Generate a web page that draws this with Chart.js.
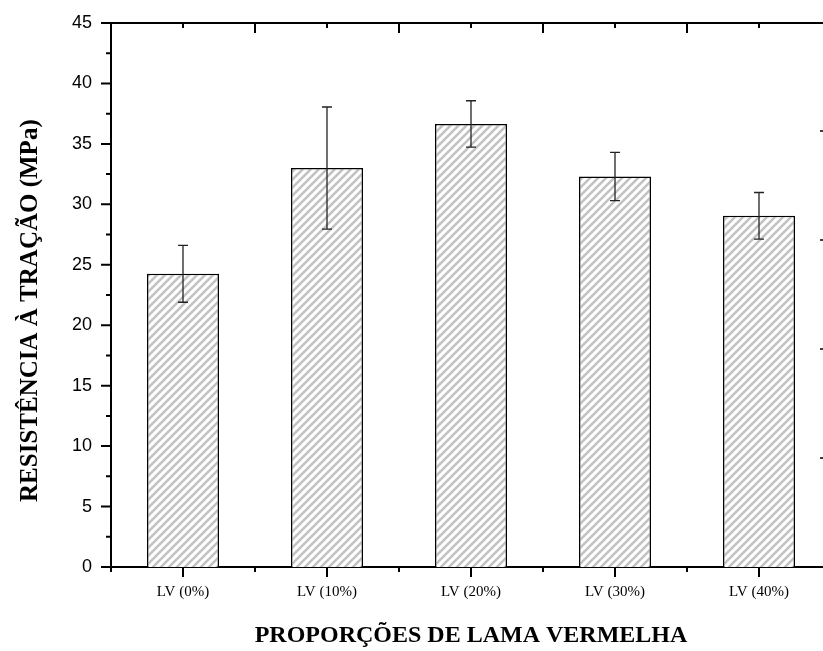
<!DOCTYPE html>
<html>
<head>
<meta charset="utf-8">
<script src="https://cdn.jsdelivr.net/npm/chart.js@4/dist/chart.umd.min.js"></script>
<style>
  html, body { margin: 0; padding: 0; background: #fff; overflow: hidden; }
  #wrap { width: 840px; height: 651px; }
</style>
</head>
<body>
<div id="wrap"><canvas id="chart" width="840" height="651"></canvas></div>
<script>
// dados
var categorias = ['LV (0%)', 'LV (10%)', 'LV (20%)', 'LV (30%)', 'LV (40%)'];
var resistencia = [24.25, 33.0, 36.65, 32.3, 29.05];
var desvio = [2.35, 5.05, 1.92, 2.0, 1.93];
var yTicks = [0, 5, 10, 15, 20, 25, 30, 35, 40, 45];

function hachura() {
    var c = document.createElement('canvas');
    c.width = 8; c.height = 8;
    var g = c.getContext('2d');
    g.fillStyle = '#fff';
    g.fillRect(0, 0, 8, 8);
    g.strokeStyle = '#c2c2c2';
    g.lineWidth = 2.6;
    g.beginPath();
    g.moveTo(-1, 9); g.lineTo(9, -1);
    g.moveTo(-2, 2); g.lineTo(2, -2);
    g.moveTo(6, 10); g.lineTo(10, 6);
    g.stroke();
    return g.createPattern(c, 'repeat');
}

// barras de erro, moldura superior e marcas dos eixos
var extras = {
    id: 'extras',
    afterDatasetsDraw: function(chart) {
        var ctx = chart.ctx, x = chart.scales.x, y = chart.scales.y;
        var a = chart.chartArea;
        ctx.save();
        ctx.strokeStyle = '#222';
        ctx.lineWidth = 1.3;
        resistencia.forEach(function(v, i) {
            var px = x.getPixelForValue(i);
            var top = y.getPixelForValue(v + desvio[i]);
            var bot = y.getPixelForValue(v - desvio[i]);
            ctx.beginPath();
            ctx.moveTo(px, top); ctx.lineTo(px, bot);
            ctx.moveTo(px - 5, top); ctx.lineTo(px + 5, top);
            ctx.moveTo(px - 5, bot); ctx.lineTo(px + 5, bot);
            ctx.stroke();
        });

        ctx.strokeStyle = '#000';
        ctx.lineWidth = 2;
        ctx.beginPath();
        ctx.moveTo(a.left - 1, a.top); ctx.lineTo(a.right, a.top);
        ctx.stroke();

        ctx.beginPath();
        // eixo y: maiores a cada 5, menores a cada 2.5
        for (var v = 0; v <= 45; v += 2.5) {
            var py = y.getPixelForValue(v);
            var len = (v % 5 === 0) ? 10 : 5;
            ctx.moveTo(a.left - len, py); ctx.lineTo(a.left, py);
        }
        // eixo x inferior e superior
        for (var k = -0.5; k <= categorias.length - 0.5; k += 0.5) {
            var px2 = x.getPixelForValue(k);
            var centro = Math.abs(k - Math.round(k)) < 0.01;
            var lb = centro ? 10 : 5;
            var lt = centro ? 5 : 10;
            ctx.moveTo(px2, a.bottom); ctx.lineTo(px2, a.bottom + lb);
            if (k > -0.5) { ctx.moveTo(px2, a.top); ctx.lineTo(px2, a.top + lt); }
        }
        ctx.stroke();

        // marcas soltas na borda direita
        ctx.lineWidth = 1.5;
        ctx.beginPath();
        [131, 240, 349, 458].forEach(function(py) {
            ctx.moveTo(820, py); ctx.lineTo(823, py);
        });
        ctx.stroke();
        ctx.restore();
    }
};

new Chart(document.getElementById('chart'), {
    type: 'bar',
    data: {
        labels: categorias,
        datasets: [{
            data: resistencia,
            backgroundColor: hachura(),
            borderColor: '#000',
            borderWidth: 1.5,
            barPercentage: 0.5,
            categoryPercentage: 1.0
        }]
    },
    options: {
        responsive: false,
        animation: false,
        layout: { padding: { top: 23, right: 9, left: 0, bottom: 0 } },
        plugins: { legend: { display: false }, tooltip: { enabled: false } },
        scales: {
            x: {
                grid: { display: false, drawTicks: false },
                border: { display: true, color: '#000', width: 2 },
                ticks: {
                    color: '#000',
                    padding: 16,
                    maxRotation: 0,
                    autoSkip: false,
                    font: { family: 'Liberation Serif', size: 15 }
                },
                title: {
                    display: true,
                    text: 'PROPORÇÕES DE LAMA VERMELHA',
                    color: '#000',
                    padding: { top: 0, bottom: 1 },
                    font: { family: 'Liberation Serif', size: 24, weight: 'bold' }
                },
                afterFit: function(s) {
                    s.height = 84;
                    s.paddingLeft = 0; s.paddingRight = 0;
                }
            },
            y: {
                min: 0,
                max: 45,
                afterBuildTicks: function(s) {
                    s.ticks = yTicks.map(function(v) { return { value: v }; });
                },
                grid: { display: false, drawTicks: false },
                border: { display: true, color: '#000', width: 2 },
                ticks: {
                    color: '#000',
                    padding: 19,
                    font: { family: 'Liberation Sans', size: 18 }
                },
                title: {
                    display: true,
                    text: 'RESISTÊNCIA À TRAÇÃO (MPa)\u00a0\u00a0\u00a0\u00a0\u00a0',
                    color: '#000',
                    padding: { top: 16, bottom: 0 },
                    font: { family: 'Liberation Serif', size: 25, weight: 'bold' }
                },
                afterFit: function(s) {
                    s.width = 111;
                    s.paddingTop = 0; s.paddingBottom = 0;
                }
            }
        }
    },
    plugins: [extras]
});
</script>
</body>
</html>
